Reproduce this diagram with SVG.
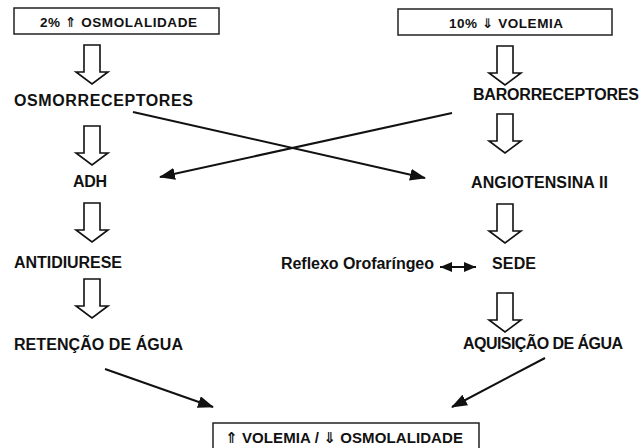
<svg xmlns="http://www.w3.org/2000/svg" xmlns:xlink="http://www.w3.org/1999/xlink" width="644" height="448" viewBox="0 0 644 448">
<style>
  text { font-family: "Liberation Sans", "DejaVu Sans", Arial, sans-serif; font-weight: bold; fill: #111; }
  .lbl { font-size: 16px; }
  .hdr { font-size: 13.5px; }
  .bot { font-size: 15px; }
  .box { fill: #fff; stroke: #222; stroke-width: 1.5; }
  .hollow { fill: #fff; stroke: #111; stroke-width: 1.6; stroke-linejoin: miter; }
  .conn { stroke: #111; stroke-width: 2; fill: none; }
</style>
<defs>
  <path id="harrow" d="M -8 0 H 8 V 27 H 16 L 0 39 L -16 27 H -8 Z"/>
  <marker id="ah" markerUnits="userSpaceOnUse" markerWidth="16" markerHeight="12" viewBox="0 0 16 12" refX="15" refY="6" orient="auto-start-reverse">
    <path d="M0 0 L16 6 L0 12 Z" fill="#111"/>
  </marker>
  <marker id="ahs" markerUnits="userSpaceOnUse" markerWidth="12" markerHeight="10" viewBox="0 0 12 10" refX="12" refY="5" orient="auto-start-reverse">
    <path d="M0 0 L12 5 L0 10 Z" fill="#111"/>
  </marker>
</defs>
<rect width="644" height="448" fill="#fff"/>

<g id="connectors">
  <line class="conn" x1="133" y1="112" x2="425" y2="178" marker-end="url(#ah)"/>
  <line class="conn" x1="452" y1="113" x2="160" y2="177" marker-end="url(#ah)"/>
  <line class="conn" x1="105" y1="369" x2="213" y2="407" marker-end="url(#ah)"/>
  <line class="conn" x1="545" y1="358" x2="452" y2="407" marker-end="url(#ah)"/>
  <line class="conn" x1="440" y1="267" x2="476" y2="267" marker-start="url(#ahs)" marker-end="url(#ahs)"/>
  <use href="#harrow" class="hollow" transform="translate(92,45)"/>
  <use href="#harrow" class="hollow" transform="translate(92,126)"/>
  <use href="#harrow" class="hollow" transform="translate(92,203)"/>
  <use href="#harrow" class="hollow" transform="translate(92,279)"/>
  <use href="#harrow" class="hollow" transform="translate(505,46)"/>
  <use href="#harrow" class="hollow" transform="translate(505,114)"/>
  <use href="#harrow" class="hollow" transform="translate(505,204)"/>
  <use href="#harrow" class="hollow" transform="translate(505,293)"/>
</g>

<g id="osmolalidade">
  <rect class="box" x="14" y="8" width="205" height="26"/>
  <text class="hdr" x="40" y="27" textLength="157">2% ⇑ OSMOLALIDADE</text>
</g>
<g id="volemia">
  <rect class="box" x="398" y="9" width="214" height="26"/>
  <text class="hdr" x="449" y="28" textLength="114">10% ⇓ VOLEMIA</text>
</g>
<g id="osmorreceptores"><text class="lbl" x="14" y="106" textLength="179">OSMORRECEPTORES</text></g>
<g id="barorreceptores"><text class="lbl" x="473" y="100" textLength="166">BARORRECEPTORES</text></g>
<g id="adh"><text class="lbl" x="73" y="187" textLength="34">ADH</text></g>
<g id="angiotensina"><text class="lbl" x="471" y="188" textLength="137">ANGIOTENSINA II</text></g>
<g id="antidiurese"><text class="lbl" x="14" y="268" textLength="108">ANTIDIURESE</text></g>
<g id="reflexo"><text class="lbl" x="281" y="269" textLength="153">Reflexo Orofaríngeo</text></g>
<g id="sede"><text class="lbl" x="492" y="269" textLength="44">SEDE</text></g>
<g id="retencao"><text class="lbl" x="14" y="350" textLength="169">RETENÇÃO DE ÁGUA</text></g>
<g id="aquisicao"><text class="lbl" x="463" y="349" textLength="160">AQUISIÇÃO DE ÁGUA</text></g>
<g id="resultado">
  <rect class="box" x="213" y="423" width="266" height="30"/>
  <text class="bot" x="225" y="443" textLength="238">⇑ VOLEMIA / ⇓ OSMOLALIDADE</text>
</g>
</svg>
